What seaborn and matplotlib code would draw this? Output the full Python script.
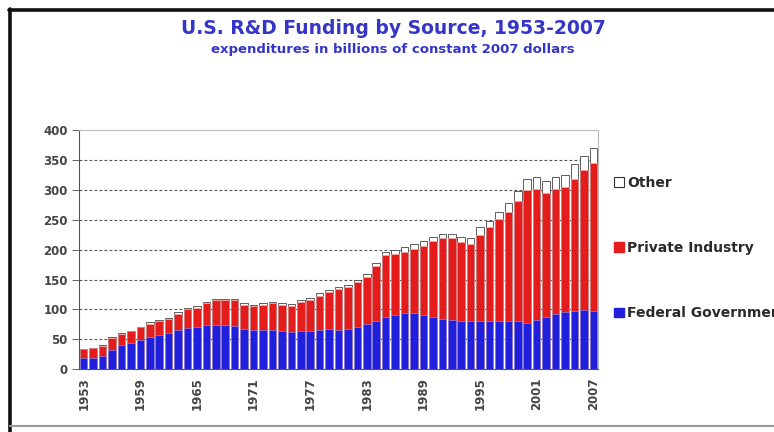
import numpy as np
import pandas as pd
import matplotlib
matplotlib.use("Agg")
import matplotlib.pyplot as plt
from matplotlib.patches import Patch
from matplotlib.lines import Line2D
import seaborn as sns

years = list(range(1953, 2008))
federal = [18, 19, 22, 32, 40, 44, 49, 54, 57, 60, 65, 69, 71, 73, 74, 74, 72,
           67, 65, 65, 65, 63, 62, 63, 64, 65, 67, 65, 67, 70, 76, 81, 88, 91,
           94, 94, 91, 87, 84, 82, 81, 80, 81, 81, 81, 81, 81, 77, 82, 87, 93,
           95, 98, 99, 97]
private = [15, 16, 17, 20, 19, 19, 21, 22, 23, 24, 28, 31, 32, 38, 41, 42, 43,
           40, 40, 43, 45, 44, 44, 49, 52, 58, 62, 69, 70, 76, 78, 91, 103, 102,
           103, 108, 116, 128, 135, 137, 132, 130, 144, 157, 171, 183, 201, 224,
           220, 209, 209, 210, 221, 235, 248]
other = [1, 1, 1, 1, 1, 1, 1, 2, 2, 2, 2, 2, 2, 2, 2, 2, 2,
         3, 3, 3, 3, 3, 3, 3, 3, 4, 4, 4, 4, 4, 5, 5, 5, 6,
         7, 7, 8, 7, 8, 8, 8, 9, 13, 10, 12, 15, 16, 18, 20, 19, 20,
         21, 24, 24, 25]
series_labels = ["Other", "Private Industry", "Federal Government"]
ytick_vals = [0, 50, 100, 150, 200, 250, 300, 350, 400]
xtick_years = [1953, 1959, 1965, 1971, 1977, 1983, 1989, 1995, 2001, 2007]

BLUE = "#2020dc"
RED = "#e41c1c"
TITLE_C = "#3535c8"

df = pd.DataFrame({"year": [str(y) for y in years],
                   "federal": federal, "private": private, "other": other})
df["fp"] = df["federal"] + df["private"]
df["total"] = df["fp"] + df["other"]

sns.set_theme(style="white")
plt.rcParams["font.family"] = ["DejaVu Sans"]

W, H = 774, 432
fig = plt.figure(figsize=(W / 100, H / 100), dpi=100)
fig.patch.set_facecolor("white")
ax = fig.add_axes([79 / W, (H - 369) / H, (598 - 79) / W, (369 - 130.5) / H])
ax.set_facecolor("white")

order = df["year"].tolist()
sns.barplot(data=df, x="year", y="total", order=order, color="white",
            saturation=1, width=0.8, edgecolor="#444444", linewidth=0.6,
            errorbar=None, ax=ax, zorder=3)
sns.barplot(data=df, x="year", y="fp", order=order, color=RED,
            saturation=1, width=0.8, edgecolor="#f4b0b0", linewidth=0.4,
            errorbar=None, ax=ax, zorder=4)
sns.barplot(data=df, x="year", y="federal", order=order, color=BLUE,
            saturation=1, width=0.8, edgecolor="#9c9cf4", linewidth=0.4,
            errorbar=None, ax=ax, zorder=5)

ax.set_ylim(0, 400)
ax.set_xlim(-0.5, len(years) - 0.5)
ax.set_yticks(ytick_vals)
ax.set_yticklabels([str(v) for v in ytick_vals], fontsize=8.5, fontweight="bold",
                   color="#444444")
ax.set_xticks([years.index(y) for y in xtick_years])
ax.set_xticklabels([str(y) for y in xtick_years], rotation=90, fontsize=8.5,
                   fontweight="bold", color="#444444")
ax.set_xticks(np.arange(len(years)) + 0.5, minor=True)
ax.tick_params(axis="x", which="major", length=0, pad=6)
ax.tick_params(axis="x", which="minor", length=3, color="#555555", width=0.6)
ax.tick_params(axis="y", which="major", length=5, color="#666666", width=0.7,
               left=True, pad=3)
ax.set_xlabel("")
ax.set_ylabel("")
for y in ytick_vals[1:-1]:
    ax.axhline(y, color="#555555", lw=0.8, ls=(0, (2.5, 2)), zorder=1)

for side in ["top", "right"]:
    ax.spines[side].set_color("#bbbbbb")
    ax.spines[side].set_linewidth(0.8)
ax.spines["left"].set_color("#555555")
ax.spines["bottom"].set_color("#555555")
ax.spines["left"].set_linewidth(0.8)
ax.spines["bottom"].set_linewidth(0.8)

handles = [Patch(facecolor="white", edgecolor="#333333", linewidth=0.8),
           Patch(facecolor=RED, edgecolor=RED),
           Patch(facecolor=BLUE, edgecolor=BLUE)]
leg = fig.legend(handles, series_labels, loc="center left",
                 bbox_to_anchor=(614 / W, (H - 248) / H), frameon=False,
                 prop={"weight": "bold", "size": 10}, handlelength=0.7,
                 handleheight=0.7, handletextpad=0.25, labelspacing=3.7,
                 borderpad=0, borderaxespad=0)
for t in leg.get_texts():
    t.set_color("#2a2a2a")

fig.text(393 / W, 1 - 28 / H, "U.S. R&D Funding by Source, 1953-2007",
         ha="center", va="center", fontsize=13.5, fontweight="bold",
         color=TITLE_C)
fig.text(393 / W, 1 - 50 / H, "expenditures in billions of constant 2007 dollars",
         ha="center", va="center", fontsize=9.5, fontweight="bold",
         color=TITLE_C)

# outer frame lines
fig.add_artist(Line2D([10 / W, 10 / W], [0, 1 - 9 / H], transform=fig.transFigure,
                      color="#111111", lw=2.6))
fig.add_artist(Line2D([9 / W, 1], [1 - 10 / H, 1 - 10 / H], transform=fig.transFigure,
                      color="#111111", lw=2.6))
fig.add_artist(Line2D([10 / W, 1], [1 - 426 / H, 1 - 426 / H], transform=fig.transFigure,
                      color="#999999", lw=1.5))

fig.savefig("out.png", dpi=100, facecolor="white")
